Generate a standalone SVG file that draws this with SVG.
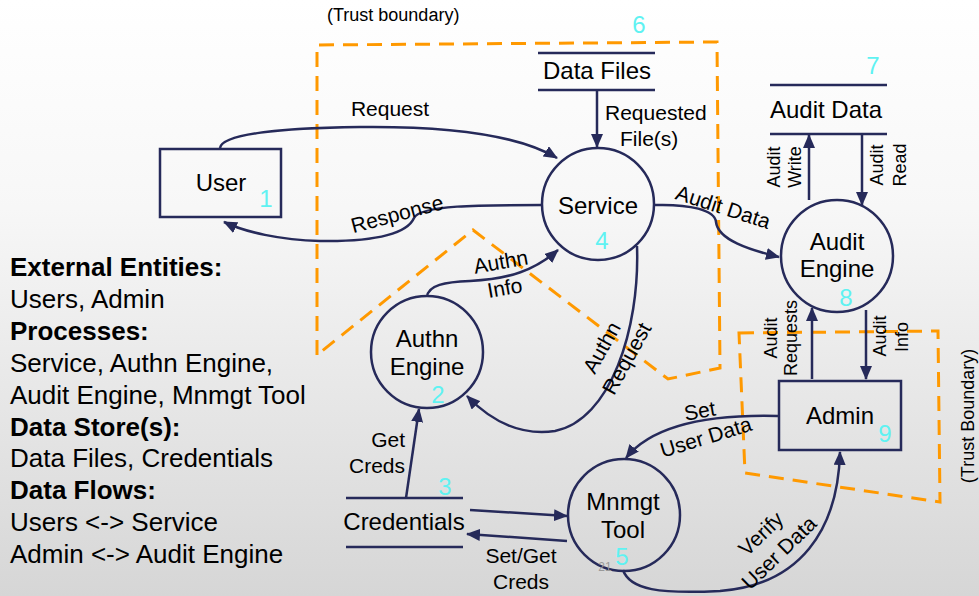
<svg xmlns="http://www.w3.org/2000/svg" width="979" height="596" viewBox="0 0 979 596">
<defs>
<linearGradient id="bg" x1="0" y1="0" x2="0" y2="1">
<stop offset="0" stop-color="#ffffff"/>
<stop offset="0.35" stop-color="#f7f7f7"/>
<stop offset="1" stop-color="#d6d6d6"/>
</linearGradient>
<marker id="ah" viewBox="0 0 14 12" refX="13" refY="6" markerWidth="14" markerHeight="12" orient="auto" markerUnits="userSpaceOnUse">
<path d="M0,0 L14,6 L0,12 z" fill="#262a5a"/>
</marker>
<style>
text{font-family:"Liberation Sans",Arial,sans-serif;fill:#000}
.node{fill:none;stroke:#262a5a;stroke-width:2.5}
.lbl{font-size:24px;text-anchor:middle}
.num{font-size:24px;fill:#5ff2f2;text-anchor:middle}
.flow{font-size:21px;text-anchor:middle}
.vflow{font-size:18px;text-anchor:middle}
.conn path,.conn line{fill:none;stroke:#262a5a;stroke-width:2.5;marker-end:url(#ah)}
.tb{fill:none;stroke:#ff9900;stroke-width:3;stroke-dasharray:15 9}
.leg{font-size:26px}
.legb{font-size:26px;font-weight:bold}
</style>
</defs>
<rect x="0" y="0" width="979" height="596" fill="url(#bg)"/>

<!-- trust boundaries -->
<g id="trust-boundaries">
<path class="tb" d="M317,355 L317,45 L717,42 L720,368 L668,379 L473,230 Z"/>
<path class="tb" d="M739,333 L938,331 L940,502 L745,473 Z"/>
<text x="327" y="21" style="font-size:18px">(Trust boundary)</text>
<text transform="translate(974,416) rotate(-90)" style="font-size:18px;text-anchor:middle">(Trust Boundary)</text>
</g>

<!-- nodes -->
<g id="user">
<rect class="node" x="160" y="149" width="121" height="68"/>
<text class="lbl" x="221" y="191">User</text>
<text class="num" x="266" y="207">1</text>
</g>
<g id="service">
<circle class="node" cx="598" cy="204" r="56"/>
<text class="lbl" x="598" y="214">Service</text>
<text class="num" x="602" y="249">4</text>
</g>
<g id="authn-engine">
<circle class="node" cx="427" cy="352" r="56"/>
<text class="lbl" x="427" y="347">Authn</text>
<text class="lbl" x="427" y="375">Engine</text>
<text class="num" x="438" y="403">2</text>
</g>
<g id="mnmgt-tool">
<circle class="node" cx="624" cy="515" r="56"/>
<text class="lbl" x="623" y="510">Mnmgt</text>
<text class="lbl" x="623" y="538">Tool</text>
<text class="num" x="622" y="565">5</text>
<text x="605" y="571" style="font-size:12px;fill:#999;text-anchor:middle">21</text>
</g>
<g id="audit-engine">
<circle class="node" cx="837" cy="256" r="56"/>
<text class="lbl" x="837" y="250">Audit</text>
<text class="lbl" x="837" y="277">Engine</text>
<text class="num" x="846" y="306">8</text>
</g>
<g id="admin">
<rect class="node" x="779" y="381" width="122" height="69"/>
<text class="lbl" x="840" y="424">Admin</text>
<text class="num" x="885" y="442">9</text>
</g>
<g id="data-files">
<line class="node" x1="538" y1="53" x2="655" y2="53"/>
<line class="node" x1="538" y1="90" x2="655" y2="90"/>
<text class="lbl" x="597" y="79">Data Files</text>
<text class="num" x="639" y="33">6</text>
</g>
<g id="audit-data">
<line class="node" x1="770" y1="85" x2="887" y2="85"/>
<line class="node" x1="770" y1="134" x2="887" y2="134"/>
<text class="lbl" x="826" y="118">Audit Data</text>
<text class="num" x="873" y="74">7</text>
</g>
<g id="credentials">
<line class="node" x1="346" y1="498" x2="463" y2="498"/>
<line class="node" x1="346" y1="547" x2="463" y2="547"/>
<text class="lbl" x="404" y="530">Credentials</text>
<text class="num" x="445" y="495">3</text>
</g>

<!-- connectors -->
<g id="connectors" class="conn">
<path d="M220,148 C222,134 280,128 360,127 C450,126 520,136 557,158"/>
<path d="M543,205 C480,205 420,205 414,218 C408,232 380,242 320,241 C280,240 245,232 224,222"/>
<line x1="597" y1="91" x2="597" y2="147"/>
<path d="M655,205 C690,204 715,210 716,222 C718,240 750,250 779,257"/>
<path d="M427,297 C428,285 445,282 470,281 C510,279 535,270 558,250"/>
<path d="M637,246 C640,330 610,420 555,431 C520,436 490,420 467,396"/>
<line x1="406" y1="498" x2="419" y2="409"/>
<line x1="470" y1="510" x2="567" y2="516"/>
<line x1="567" y1="541" x2="467" y2="534"/>
<path d="M778,416 C700,414 650,428 626,458"/>
<path d="M623,570 C630,590 660,594 720,591 C800,585 838,530 840,452"/>
<line x1="809" y1="200" x2="809" y2="135"/>
<line x1="862" y1="135" x2="862" y2="205"/>
<line x1="812" y1="379" x2="812" y2="308"/>
<line x1="866" y1="310" x2="866" y2="379"/>
</g>

<!-- flow labels -->
<g id="flow-labels">
<text class="flow" x="390" y="116">Request</text>
<text class="flow" transform="translate(399,221) rotate(-15)">Response</text>
<text class="flow" x="605" y="120" style="text-anchor:start">Requested</text>
<text class="flow" x="620" y="146" style="text-anchor:start">File(s)</text>
<text class="flow" transform="translate(721,214) rotate(18)">Audit Data</text>
<text class="flow" transform="translate(502,269) rotate(-10)">Authn</text>
<text class="flow" transform="translate(506,295) rotate(-10)">Info</text>
<text class="flow" transform="translate(608,351) rotate(-61)">Authn</text>
<text class="flow" transform="translate(633,362) rotate(-61)">Request</text>
<text class="flow" x="405" y="447" style="text-anchor:end">Get</text>
<text class="flow" x="405" y="473" style="text-anchor:end">Creds</text>
<text class="flow" x="521" y="563">Set/Get</text>
<text class="flow" x="521" y="589">Creds</text>
<text class="flow" transform="translate(701,418) rotate(-10)">Set</text>
<text class="flow" transform="translate(708,444) rotate(-17)">User Data</text>
<text class="flow" transform="translate(766,539) rotate(-44)">Verify</text>
<text class="flow" transform="translate(784,558) rotate(-44)">User Data</text>
<text class="vflow" transform="translate(780,167) rotate(-90)">Audit</text>
<text class="vflow" transform="translate(801,167) rotate(-90)">Write</text>
<text class="vflow" transform="translate(883,165) rotate(-90)">Audit</text>
<text class="vflow" transform="translate(906,165) rotate(-90)">Read</text>
<text class="vflow" transform="translate(777,338) rotate(-90)">Audit</text>
<text class="vflow" transform="translate(797,338) rotate(-90)">Requests</text>
<text class="vflow" transform="translate(886,336) rotate(-90)">Audit</text>
<text class="vflow" transform="translate(908,337) rotate(-90)">Info</text>
</g>

<!-- legend -->
<g id="legend">
<text class="legb" x="10" y="276">External Entities:</text>
<text class="leg" x="10" y="308">Users, Admin</text>
<text class="legb" x="10" y="340">Processes:</text>
<text class="leg" x="10" y="372">Service, Authn Engine,</text>
<text class="leg" x="10" y="404">Audit Engine, Mnmgt Tool</text>
<text class="legb" x="10" y="436">Data Store(s):</text>
<text class="leg" x="10" y="467">Data Files, Credentials</text>
<text class="legb" x="10" y="499">Data Flows:</text>
<text class="leg" x="10" y="531">Users &lt;-&gt; Service</text>
<text class="leg" x="10" y="563">Admin &lt;-&gt; Audit Engine</text>
</g>
</svg>
